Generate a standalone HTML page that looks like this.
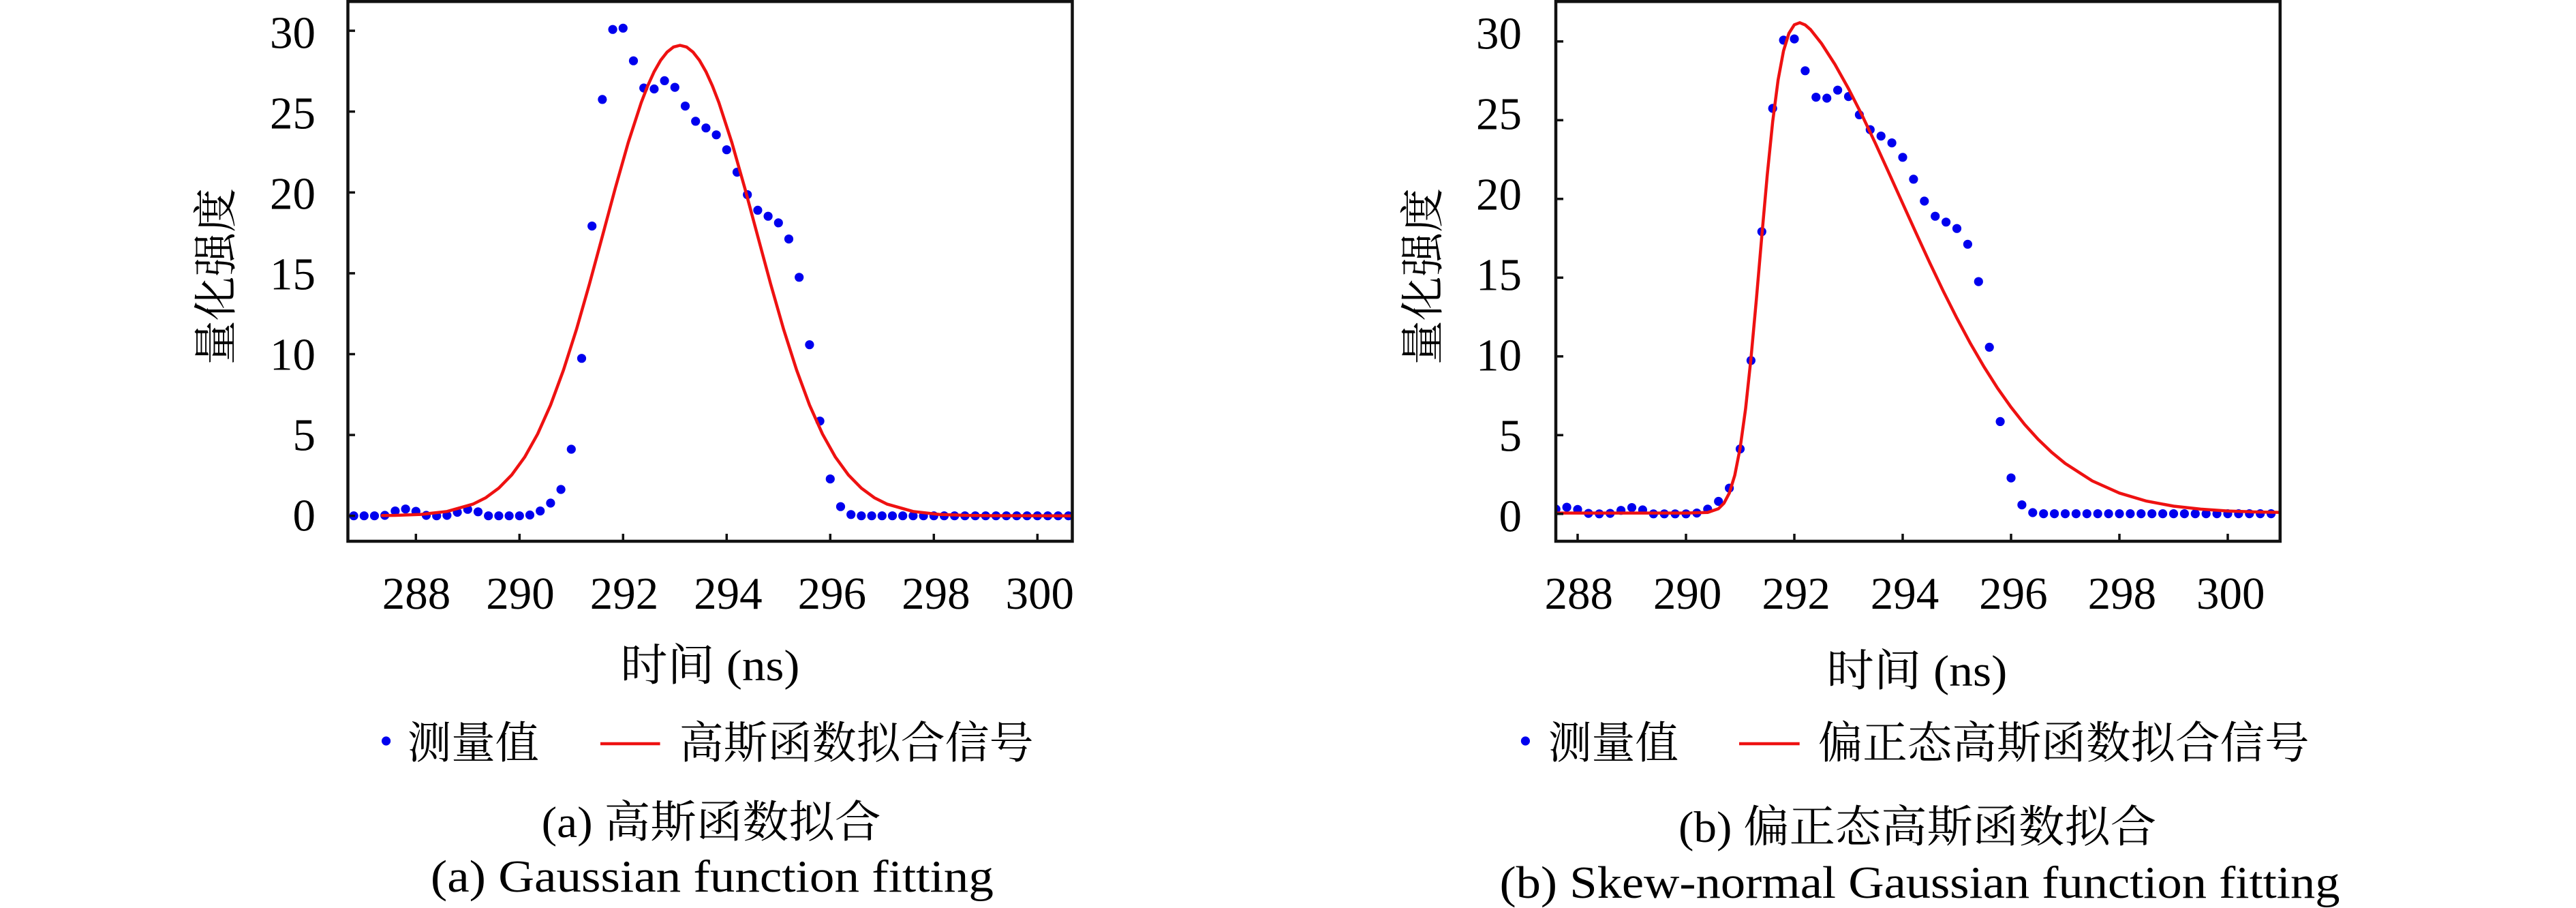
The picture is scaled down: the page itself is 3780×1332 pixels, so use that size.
<!DOCTYPE html>
<html>
<head>
<meta charset="utf-8">
<style>
html,body{margin:0;padding:0;background:#ffffff;}
svg{display:block;}
text{font-family:"Liberation Serif","Noto Serif CJK SC",serif;fill:#000;}
</style>
</head>
<body>
<svg width="3780" height="1332" viewBox="0 0 3780 1332" xmlns="http://www.w3.org/2000/svg">
<rect x="0" y="0" width="3780" height="1332" fill="#ffffff"/>
<defs>
<clipPath id="cL"><rect x="512" y="4" width="1060" height="788"/></clipPath>
<clipPath id="cR"><rect x="2285" y="4" width="1059" height="788"/></clipPath>
</defs>

<!-- ================= LEFT PLOT ================= -->
<g clip-path="url(#cL)" fill="#0000ee">
<circle cx="519.1" cy="756.7" r="6.6"/><circle cx="534.3" cy="756.7" r="6.6"/><circle cx="549.5" cy="756.7" r="6.6"/><circle cx="564.7" cy="756.0" r="6.6"/>
<circle cx="579.9" cy="749.6" r="6.6"/><circle cx="595.1" cy="746.7" r="6.6"/><circle cx="610.3" cy="750.1" r="6.6"/><circle cx="625.5" cy="756.0" r="6.6"/>
<circle cx="640.7" cy="756.7" r="6.6"/><circle cx="655.9" cy="756.0" r="6.6"/><circle cx="671.1" cy="751.5" r="6.6"/><circle cx="686.3" cy="747.2" r="6.6"/>
<circle cx="701.5" cy="750.8" r="6.6"/><circle cx="716.7" cy="756.7" r="6.6"/><circle cx="731.9" cy="756.7" r="6.6"/><circle cx="747.1" cy="756.7" r="6.6"/>
<circle cx="762.3" cy="756.7" r="6.6"/><circle cx="777.5" cy="755.5" r="6.6"/><circle cx="792.7" cy="749.6" r="6.6"/><circle cx="807.9" cy="738.0" r="6.6"/>
<circle cx="823.1" cy="718.0" r="6.6"/><circle cx="838.3" cy="659.0" r="6.6"/><circle cx="853.5" cy="525.7" r="6.6"/><circle cx="868.7" cy="331.6" r="6.6"/>
<circle cx="883.9" cy="145.9" r="6.6"/><circle cx="899.1" cy="43.2" r="6.6"/><circle cx="914.3" cy="41.3" r="6.6"/><circle cx="929.5" cy="89.2" r="6.6"/>
<circle cx="944.7" cy="129.1" r="6.6"/><circle cx="959.9" cy="130.5" r="6.6"/><circle cx="975.1" cy="118.4" r="6.6"/><circle cx="990.3" cy="128.1" r="6.6"/>
<circle cx="1005.5" cy="155.6" r="6.6"/><circle cx="1020.7" cy="177.9" r="6.6"/><circle cx="1035.9" cy="187.7" r="6.6"/><circle cx="1051.1" cy="197.8" r="6.6"/>
<circle cx="1066.3" cy="219.7" r="6.6"/><circle cx="1081.5" cy="252.6" r="6.6"/><circle cx="1096.7" cy="285.6" r="6.6"/><circle cx="1111.9" cy="308.4" r="6.6"/>
<circle cx="1127.1" cy="317.2" r="6.6"/><circle cx="1142.3" cy="326.9" r="6.6"/><circle cx="1157.5" cy="350.6" r="6.6"/><circle cx="1172.7" cy="406.8" r="6.6"/>
<circle cx="1187.9" cy="505.7" r="6.6"/><circle cx="1203.1" cy="617.7" r="6.6"/><circle cx="1218.3" cy="702.6" r="6.6"/><circle cx="1233.5" cy="743.2" r="6.6"/>
<circle cx="1248.7" cy="754.8" r="6.6"/>
<circle cx="1263.9" cy="756.7" r="6.6"/><circle cx="1279.1" cy="756.7" r="6.6"/><circle cx="1294.3" cy="756.7" r="6.6"/><circle cx="1309.5" cy="756.7" r="6.6"/>
<circle cx="1324.7" cy="756.7" r="6.6"/><circle cx="1339.9" cy="756.7" r="6.6"/><circle cx="1355.1" cy="756.7" r="6.6"/><circle cx="1370.3" cy="756.7" r="6.6"/>
<circle cx="1385.5" cy="756.7" r="6.6"/><circle cx="1400.7" cy="756.7" r="6.6"/><circle cx="1415.9" cy="756.7" r="6.6"/><circle cx="1431.1" cy="756.7" r="6.6"/>
<circle cx="1446.3" cy="756.7" r="6.6"/><circle cx="1461.5" cy="756.7" r="6.6"/><circle cx="1476.7" cy="756.7" r="6.6"/><circle cx="1491.9" cy="756.7" r="6.6"/>
<circle cx="1507.1" cy="756.7" r="6.6"/><circle cx="1522.3" cy="756.7" r="6.6"/><circle cx="1537.5" cy="756.7" r="6.6"/><circle cx="1552.7" cy="756.7" r="6.6"/>
<circle cx="1567.9" cy="756.7" r="6.6"/><circle cx="1583.1" cy="756.7" r="6.6"/>
</g>
<g clip-path="url(#cL)">
<polyline fill="none" stroke="#ee1111" stroke-width="4.5" stroke-linejoin="round" stroke-linecap="round"
points="560.9,756.2 579.9,756.0 617.9,754.6 655.9,750.3 693.9,739.6 712.9,730.1 731.9,716.1 750.9,696.7 769.9,670.6 788.9,636.7 807.9,594.2 826.9,542.7 845.9,483.2 864.9,416.8 883.9,346.6 902.9,275.9 921.9,209.0 940.9,150.6 950.4,126.0 959.9,105.1 969.4,88.5 978.9,76.4 988.4,68.9 997.9,66.5 1007.4,68.9 1016.9,76.4 1026.4,88.5 1035.9,105.1 1045.4,126.0 1054.9,150.6 1073.9,209.0 1092.9,275.9 1111.9,346.6 1130.9,416.8 1149.9,483.2 1168.9,542.7 1187.9,594.2 1206.9,636.7 1225.9,670.6 1244.9,696.7 1263.9,716.1 1282.9,730.1 1301.9,739.6 1339.9,750.3 1377.9,754.6 1415.9,756.0 1453.9,756.5 1574,756.7"/>
</g>
<!-- frame -->
<rect x="510.5" y="2.2" width="1063" height="791.8" fill="none" stroke="#111" stroke-width="4.5"/>
<!-- ticks -->
<g stroke="#111" stroke-width="3.5">
<line x1="512" y1="756.7" x2="521" y2="756.7"/><line x1="512" y1="638.1" x2="521" y2="638.1"/><line x1="512" y1="519.5" x2="521" y2="519.5"/>
<line x1="512" y1="400.9" x2="521" y2="400.9"/><line x1="512" y1="282.3" x2="521" y2="282.3"/><line x1="512" y1="163.7" x2="521" y2="163.7"/><line x1="512" y1="45.1" x2="521" y2="45.1"/>
<line x1="610.3" y1="792" x2="610.3" y2="783"/><line x1="762.3" y1="792" x2="762.3" y2="783"/><line x1="914.3" y1="792" x2="914.3" y2="783"/>
<line x1="1066.3" y1="792" x2="1066.3" y2="783"/><line x1="1218.3" y1="792" x2="1218.3" y2="783"/><line x1="1370.3" y1="792" x2="1370.3" y2="783"/><line x1="1522.3" y1="792" x2="1522.3" y2="783"/>
</g>
<!-- y tick labels -->
<g font-size="67" text-anchor="end">
<text x="463" y="70.5">30</text><text x="463" y="188.5">25</text><text x="463" y="306.5">20</text><text x="463" y="424.5">15</text>
<text x="463" y="542.5">10</text><text x="463" y="660.5">5</text><text x="463" y="778.5">0</text>
</g>
<!-- x tick labels -->
<g font-size="67" text-anchor="middle">
<text x="611" y="893">288</text><text x="763.5" y="893">290</text><text x="916" y="893">292</text><text x="1068.4" y="893">294</text>
<text x="1220.9" y="893">296</text><text x="1373.4" y="893">298</text><text x="1525.8" y="893">300</text>
</g>
<!-- axis labels -->
<text x="0" y="0" font-size="65" text-anchor="middle" dominant-baseline="central" textLength="259" lengthAdjust="spacingAndGlyphs" transform="translate(318,405.5) rotate(-90)">量化强度</text>
<text x="1041.9" y="998" font-size="65" text-anchor="middle" textLength="263" lengthAdjust="spacingAndGlyphs">时间 (ns)</text>
<!-- legend -->
<circle cx="566.6" cy="1087" r="6.6" fill="#0000ee"/>
<text x="598" y="1112" font-size="65" textLength="193" lengthAdjust="spacingAndGlyphs">测量值</text>
<line x1="881" y1="1091" x2="968.6" y2="1091" stroke="#ee1111" stroke-width="4.5"/>
<text x="996.7" y="1112" font-size="65" textLength="520" lengthAdjust="spacingAndGlyphs">高斯函数拟合信号</text>
<!-- captions -->
<text x="794.6" y="1228" font-size="65" textLength="498" lengthAdjust="spacingAndGlyphs">(a) 高斯函数拟合</text>
<text x="631.9" y="1308" font-size="67" textLength="826" lengthAdjust="spacingAndGlyphs">(a) Gaussian function fitting</text>

<!-- ================= RIGHT PLOT ================= -->
<g clip-path="url(#cR)" fill="#0000ee">
<circle cx="2283.2" cy="746.9" r="6.6"/><circle cx="2299.1" cy="744.1" r="6.6"/><circle cx="2315.0" cy="747.3" r="6.6"/><circle cx="2330.9" cy="753.1" r="6.6"/>
<circle cx="2346.8" cy="753.8" r="6.6"/><circle cx="2362.7" cy="753.1" r="6.6"/><circle cx="2378.6" cy="748.7" r="6.6"/><circle cx="2394.5" cy="744.6" r="6.6"/>
<circle cx="2410.4" cy="748.0" r="6.6"/><circle cx="2426.3" cy="753.8" r="6.6"/><circle cx="2442.2" cy="753.8" r="6.6"/><circle cx="2458.1" cy="753.8" r="6.6"/>
<circle cx="2474.0" cy="753.8" r="6.6"/><circle cx="2489.9" cy="752.6" r="6.6"/><circle cx="2505.8" cy="746.9" r="6.6"/><circle cx="2521.7" cy="735.5" r="6.6"/>
<circle cx="2537.6" cy="716.1" r="6.6"/><circle cx="2553.5" cy="658.6" r="6.6"/><circle cx="2569.4" cy="528.8" r="6.6"/><circle cx="2585.3" cy="339.8" r="6.6"/>
<circle cx="2601.2" cy="159.0" r="6.6"/><circle cx="2617.1" cy="58.9" r="6.6"/><circle cx="2633.0" cy="57.1" r="6.6"/><circle cx="2648.9" cy="103.8" r="6.6"/>
<circle cx="2664.8" cy="142.6" r="6.6"/><circle cx="2680.7" cy="144.0" r="6.6"/><circle cx="2696.6" cy="132.2" r="6.6"/><circle cx="2712.5" cy="141.6" r="6.6"/>
<circle cx="2728.4" cy="168.4" r="6.6"/><circle cx="2744.3" cy="190.2" r="6.6"/><circle cx="2760.2" cy="199.6" r="6.6"/><circle cx="2776.1" cy="209.6" r="6.6"/>
<circle cx="2792.0" cy="230.8" r="6.6"/><circle cx="2807.9" cy="262.9" r="6.6"/><circle cx="2823.8" cy="295.0" r="6.6"/><circle cx="2839.7" cy="317.2" r="6.6"/>
<circle cx="2855.6" cy="325.8" r="6.6"/><circle cx="2871.5" cy="335.2" r="6.6"/><circle cx="2887.4" cy="358.3" r="6.6"/><circle cx="2903.3" cy="413.1" r="6.6"/>
<circle cx="2919.2" cy="509.4" r="6.6"/><circle cx="2935.1" cy="618.4" r="6.6"/><circle cx="2951.0" cy="701.1" r="6.6"/><circle cx="2966.9" cy="740.6" r="6.6"/>
<circle cx="2982.8" cy="752.0" r="6.6"/>
<circle cx="2998.7" cy="753.6" r="6.6"/><circle cx="3014.6" cy="753.6" r="6.6"/><circle cx="3030.5" cy="753.6" r="6.6"/><circle cx="3046.4" cy="753.6" r="6.6"/>
<circle cx="3062.3" cy="753.6" r="6.6"/><circle cx="3078.2" cy="753.6" r="6.6"/><circle cx="3094.1" cy="753.6" r="6.6"/><circle cx="3110.0" cy="753.6" r="6.6"/>
<circle cx="3125.9" cy="753.6" r="6.6"/><circle cx="3141.8" cy="753.6" r="6.6"/><circle cx="3157.7" cy="753.6" r="6.6"/><circle cx="3173.6" cy="753.6" r="6.6"/>
<circle cx="3189.5" cy="753.6" r="6.6"/><circle cx="3205.4" cy="753.6" r="6.6"/><circle cx="3221.3" cy="753.6" r="6.6"/><circle cx="3237.2" cy="753.6" r="6.6"/>
<circle cx="3253.1" cy="753.6" r="6.6"/><circle cx="3269.0" cy="753.6" r="6.6"/><circle cx="3284.9" cy="753.6" r="6.6"/><circle cx="3300.8" cy="753.6" r="6.6"/>
<circle cx="3316.7" cy="753.6" r="6.6"/><circle cx="3332.6" cy="753.6" r="6.6"/>
</g>
<g clip-path="url(#cR)">
<polyline fill="none" stroke="#ee1111" stroke-width="4.5" stroke-linejoin="round" stroke-linecap="round"
points="2282.4,752.6 2474,752.6 2505.8,751.7 2521.7,746.2 2529.65,738.3 2537.6,723.3 2545.55,697.4 2553.5,657.0 2561.45,599.7 2569.4,525.3 2577.35,438.5 2585.3,345.9 2593.25,256.7 2601.2,178.6 2609.15,117.4 2617.1,74.7 2625.05,48.8 2633,36.3 2640.95,33.3 2648.9,36.6 2656.85,43.5 2672.75,63.6 2692.6,94.5 2712.5,130.1 2732.4,169.1 2752.25,210.95 2772.1,254.4 2792,298.5 2811.9,342.4 2831.75,385.6 2851.6,427.2 2871.5,466.7 2891.4,503.9 2911.25,538.0 2931.1,569.3 2951,597.4 2970.9,622.6 2990.75,644.5 3010.6,663.5 3030.5,679.9 3070.25,705.5 3110,723.3 3149.75,735.1 3189.5,742.5 3229.25,746.9 3269,749.6 3308.75,751.0 3345.7,751.7"/>
</g>
<rect x="2283" y="2.2" width="1062.8" height="791.8" fill="none" stroke="#111" stroke-width="4.5"/>
<g stroke="#111" stroke-width="3.5">
<line x1="2285" y1="753.8" x2="2294" y2="753.8"/><line x1="2285" y1="638.3" x2="2294" y2="638.3"/><line x1="2285" y1="522.8" x2="2294" y2="522.8"/>
<line x1="2285" y1="407.3" x2="2294" y2="407.3"/><line x1="2285" y1="291.8" x2="2294" y2="291.8"/><line x1="2285" y1="176.3" x2="2294" y2="176.3"/><line x1="2285" y1="60.8" x2="2294" y2="60.8"/>
<line x1="2315" y1="792" x2="2315" y2="783"/><line x1="2474" y1="792" x2="2474" y2="783"/><line x1="2633" y1="792" x2="2633" y2="783"/>
<line x1="2792" y1="792" x2="2792" y2="783"/><line x1="2951" y1="792" x2="2951" y2="783"/><line x1="3110" y1="792" x2="3110" y2="783"/><line x1="3269" y1="792" x2="3269" y2="783"/>
</g>
<g font-size="67" text-anchor="end">
<text x="2233" y="71.5">30</text><text x="2233" y="189.5">25</text><text x="2233" y="307.5">20</text><text x="2233" y="425.5">15</text>
<text x="2233" y="543.5">10</text><text x="2233" y="661.5">5</text><text x="2233" y="779.5">0</text>
</g>
<g font-size="67" text-anchor="middle">
<text x="2316.7" y="893">288</text><text x="2476.1" y="893">290</text><text x="2635.6" y="893">292</text><text x="2795" y="893">294</text>
<text x="2954.4" y="893">296</text><text x="3113.9" y="893">298</text><text x="3273.3" y="893">300</text>
</g>
<text x="0" y="0" font-size="65" text-anchor="middle" dominant-baseline="central" textLength="259" lengthAdjust="spacingAndGlyphs" transform="translate(2089,405.5) rotate(-90)">量化强度</text>
<text x="2812.8" y="1006" font-size="65" text-anchor="middle" textLength="265" lengthAdjust="spacingAndGlyphs">时间 (ns)</text>
<circle cx="2238.4" cy="1087" r="6.6" fill="#0000ee"/>
<text x="2272" y="1112" font-size="65" textLength="191" lengthAdjust="spacingAndGlyphs">测量值</text>
<line x1="2552" y1="1091" x2="2640.7" y2="1091" stroke="#ee1111" stroke-width="4.5"/>
<text x="2667.7" y="1112" font-size="65" textLength="721" lengthAdjust="spacingAndGlyphs">偏正态高斯函数拟合信号</text>
<text x="2463" y="1235" font-size="65" textLength="701" lengthAdjust="spacingAndGlyphs">(b) 偏正态高斯函数拟合</text>
<text x="2200.5" y="1317" font-size="67" textLength="1233" lengthAdjust="spacingAndGlyphs">(b) Skew-normal Gaussian function fitting</text>
</svg>
</body>
</html>
